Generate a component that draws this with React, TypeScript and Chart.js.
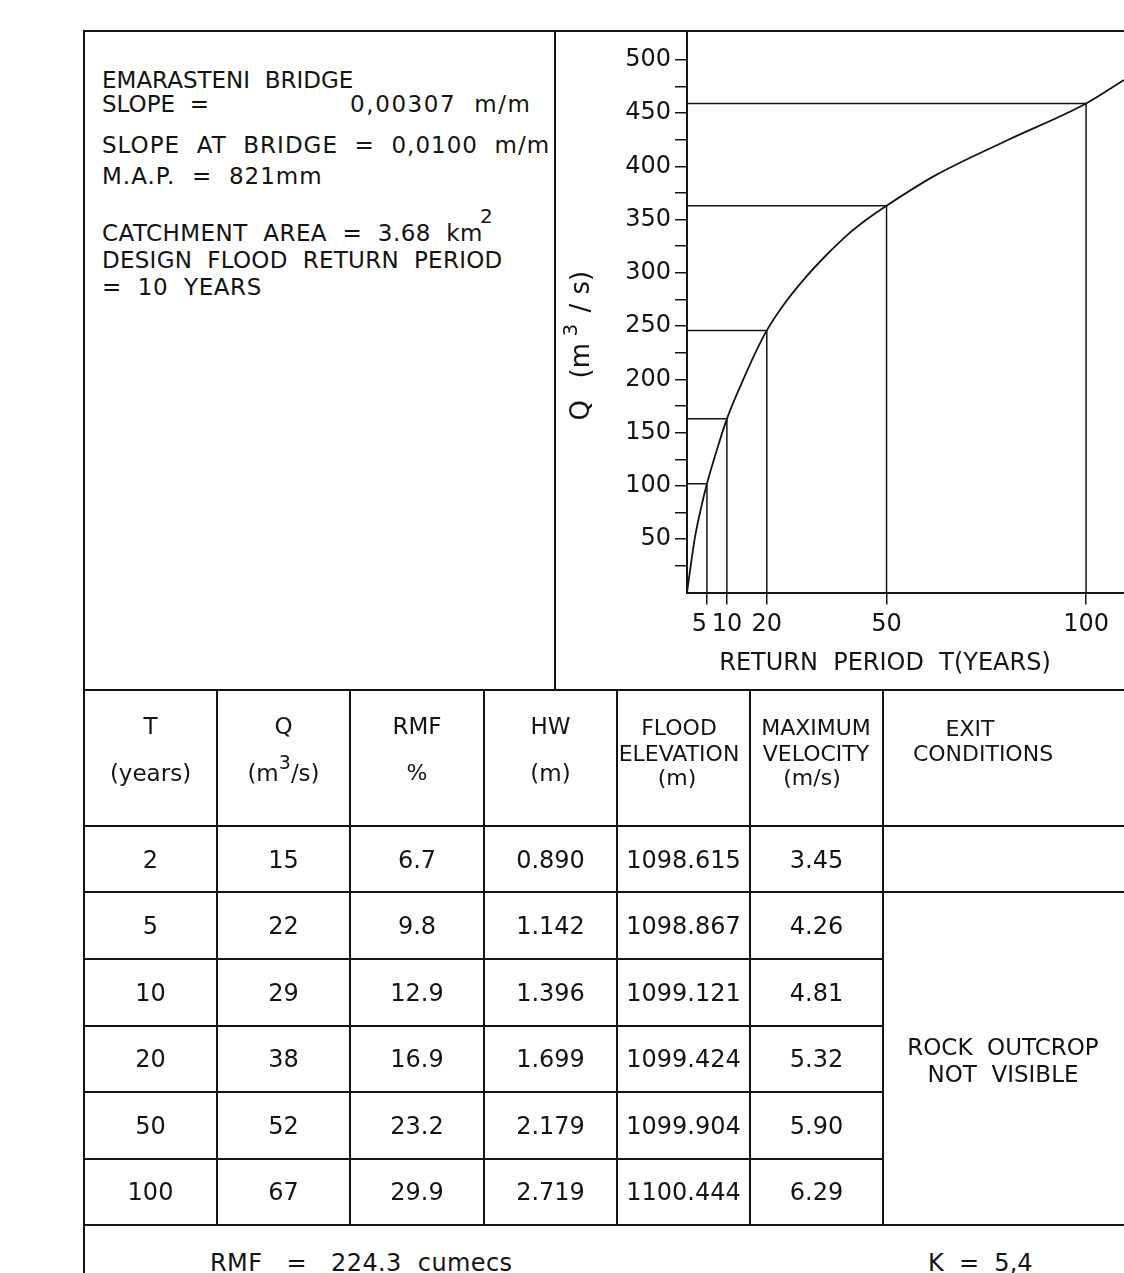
import React, { useEffect, useRef } from 'react';
import { Chart, registerables } from 'chart.js';

Chart.register(...registerables);

const FONT = "'DejaVu Sans', 'Liberation Sans', sans-serif";
const INK = '#141414';

// ---- Chart data ----
const curveT = [0, 1, 2, 3.5, 5, 7.5, 10, 14, 17, 20, 25, 30, 35, 40, 45, 50, 62, 80, 100, 109.5];
const curveQ = [0, 27, 52, 79, 102, 134, 163, 199, 224, 246, 274, 297, 317, 335, 350, 363, 391, 424, 459, 481];
const designT = [5, 10, 20, 50, 100];
const designQ = [102, 163, 246, 363, 459];
const xTickValues = [5, 10, 20, 50, 100];
const yTickValues = [25, 50, 75, 100, 125, 150, 175, 200, 225, 250, 275, 300, 325, 350, 375, 400, 425, 450, 475, 500];
const xAxisMax = 109.5;
const yAxisMax = 527;
const xAxisTitle = 'RETURN  PERIOD  T(YEARS)';

// ---- Table data ----
const tableT = ['2', '5', '10', '20', '50', '100'];
const tableQ = ['15', '22', '29', '38', '52', '67'];
const tableRMF = ['6.7', '9.8', '12.9', '16.9', '23.2', '29.9'];
const tableHW = ['0.890', '1.142', '1.396', '1.699', '2.179', '2.719'];
const tableFlood = ['1098.615', '1098.867', '1099.121', '1099.424', '1099.904', '1100.444'];
const tableVel = ['3.45', '4.26', '4.81', '5.32', '5.90', '6.29'];

const colX = [84, 217, 350, 484, 617, 750, 883];
const rowTop = 826;
const rowH = 66.5;

function HLine({ x1, x2, y, w = 2 }: { x1: number; x2: number; y: number; w?: number }) {
  return <div style={{ position: 'absolute', left: x1, top: y - w / 2, width: x2 - x1, height: w, background: INK }} />;
}
function VLine({ x, y1, y2, w = 2 }: { x: number; y1: number; y2: number; w?: number }) {
  return <div style={{ position: 'absolute', left: x - w / 2, top: y1, width: w, height: y2 - y1, background: INK }} />;
}
function Txt({ x, y, size = 23, align = 'left', ls = 0, children }: any) {
  const style: any = {
    position: 'absolute',
    top: y - 0.846 * size,
    fontFamily: FONT,
    fontSize: size,
    lineHeight: 1,
    whiteSpace: 'pre',
    color: INK,
    letterSpacing: ls,
  };
  if (align === 'center') {
    style.left = x - 200;
    style.width = 400;
    style.textAlign = 'center';
  } else {
    style.left = x;
  }
  return <div style={style}>{children}</div>;
}
function Sup({ children, size = 19, raise = 12 }: any) {
  return <span style={{ fontSize: size, position: 'relative', top: -raise }}>{children}</span>;
}

const axisTitlePlugin = {
  id: 'axisTitles',
  afterDraw(chart: any) {
    const c = chart.ctx;
    const area = chart.chartArea;
    c.save();
    c.fillStyle = INK;
    c.textBaseline = 'alphabetic';
    c.textAlign = 'center';
    c.font = `24px ${FONT}`;
    c.fillText(xAxisTitle, area.left + 198, area.bottom + 77);
    c.translate(area.left - 98, area.bottom - 172);
    c.rotate(-Math.PI / 2);
    c.textAlign = 'left';
    c.font = `26px ${FONT}`;
    c.fillText('Q', 0, 0);
    c.fillText('(m', 42, 0);
    c.font = `20px ${FONT}`;
    c.fillText('3', 84, -12);
    c.font = `26px ${FONT}`;
    c.fillText('/', 108, 0);
    c.fillText('s)', 126, 0);
    c.restore();
  },
};

export default function App() {
  const ref = useRef<HTMLCanvasElement>(null);

  useEffect(() => {
    const canvas = ref.current;
    if (!canvas) return;
    const guideSets = designT.map((t, i) => ({
      data: [
        { x: 0, y: designQ[i] },
        { x: t, y: designQ[i] },
        { x: t, y: 0 },
      ],
      showLine: true,
      borderColor: INK,
      borderWidth: 1.5,
      pointRadius: 0,
      tension: 0,
      fill: false,
    }));
    const chart = new Chart(canvas, {
      type: 'scatter',
      data: {
        datasets: [
          {
            data: curveT.map((t, i) => ({ x: t, y: curveQ[i] })),
            showLine: true,
            borderColor: INK,
            borderWidth: 1.8,
            pointRadius: 0,
            cubicInterpolationMode: 'monotone',
            fill: false,
          } as any,
          ...guideSets,
        ],
      },
      options: {
        responsive: false,
        animation: false,
        events: [],
        layout: { padding: 0 },
        plugins: { legend: { display: false }, tooltip: { enabled: false }, title: { display: false } },
        scales: {
          x: {
            type: 'linear',
            position: 'bottom',
            min: 0,
            max: xAxisMax,
            afterBuildTicks: (s: any) => {
              s.ticks = xTickValues.map((v) => ({ value: v }));
            },
            afterFit: (s: any) => {
              s.height = 97.5;
              s.paddingLeft = 0;
              s.paddingRight = 0;
            },
            grid: { drawOnChartArea: false, drawTicks: true, tickLength: 12, color: INK, lineWidth: 1.5 },
            border: { display: true, color: INK, width: 2 },
            ticks: {
              autoSkip: false,
              maxRotation: 0,
              minRotation: 0,
              padding: 6,
              color: INK,
              font: { family: FONT, size: 24 },
              callback: (v: any) => String(v) + (v === 5 ? '  ' : ''),
            },
          },
          y: {
            type: 'linear',
            min: 0,
            max: yAxisMax,
            afterBuildTicks: (s: any) => {
              s.ticks = yTickValues.map((v) => ({ value: v }));
            },
            afterFit: (s: any) => {
              s.width = 132;
              s.paddingTop = 0;
              s.paddingBottom = 0;
            },
            grid: { drawOnChartArea: false, drawTicks: true, tickLength: 12, color: INK, lineWidth: 1.5 },
            border: { display: true, color: INK, width: 2 },
            ticks: {
              autoSkip: false,
              padding: 4,
              color: INK,
              font: { family: FONT, size: 24 },
              callback: (v: any) => (v % 50 === 0 ? String(v) : ''),
            },
          },
        },
      } as any,
      plugins: [axisTitlePlugin],
    });
    return () => chart.destroy();
  }, []);

  const centers = colX.slice(0, 6).map((x, i) => (x + colX[i + 1]) / 2);
  const cols = [tableT, tableQ, tableRMF, tableHW, tableFlood, tableVel];

  return (
    <div style={{ position: 'fixed', left: 0, top: 0, width: 1124, height: 1273, overflow: 'hidden', background: '#fff' }}>
      <canvas ref={ref} width={569} height={659} style={{ position: 'absolute', left: 555, top: 31, width: 569, height: 659 }} />

      {/* frame */}
      <HLine x1={83} x2={1124} y={31} />
      <VLine x={84} y1={30} y2={1273} />
      <VLine x={555} y1={31} y2={690} />
      <HLine x1={84} x2={1124} y={690} />
      {colX.slice(1).map((x) => (
        <VLine key={x} x={x} y1={690} y2={1225} />
      ))}
      <HLine x1={84} x2={1124} y={826} />
      <HLine x1={84} x2={1124} y={892} />
      {[2, 3, 4, 5].map((k) => (
        <HLine key={k} x1={84} x2={883} y={rowTop + rowH * k} />
      ))}
      <HLine x1={84} x2={1124} y={1225} />

      {/* info panel */}
      <Txt x={102} y={88}>EMARASTENI  BRIDGE</Txt>
      <Txt x={102} y={112.5}>SLOPE  =</Txt>
      <Txt x={350} y={112.5} ls={1.6}>0,00307  m/m</Txt>
      <Txt x={102} y={153.5} ls={1}>SLOPE  AT  BRIDGE  =  0,0100  m/m</Txt>
      <Txt x={102} y={184} ls={1}>M.A.P.  =  821mm</Txt>
      <Txt x={102} y={241.5} ls={0.45}>CATCHMENT  AREA  =  3.68  km</Txt>
      <Txt x={480} y={222.5} size={20}>2</Txt>
      <Txt x={102} y={268} ls={0.25}>DESIGN  FLOOD  RETURN  PERIOD</Txt>
      <Txt x={102} y={295} ls={0.6}>=  10  YEARS</Txt>

      {/* table header */}
      <Txt x={centers[0]} y={734} align="center">T</Txt>
      <Txt x={centers[0]} y={781} align="center">(years)</Txt>
      <Txt x={centers[1]} y={734} align="center">Q</Txt>
      <Txt x={centers[1]} y={781} align="center">
        (m<Sup>3</Sup>/s)
      </Txt>
      <Txt x={centers[2]} y={734} align="center">RMF</Txt>
      <Txt x={centers[2]} y={781} size={22} align="center">%</Txt>
      <Txt x={centers[3]} y={734} align="center">HW</Txt>
      <Txt x={centers[3]} y={781} align="center">(m)</Txt>
      <Txt x={679} y={736} size={22} align="center">FLOOD</Txt>
      <Txt x={679} y={762} size={22} align="center">ELEVATION</Txt>
      <Txt x={677} y={786} size={22} align="center">(m)</Txt>
      <Txt x={816} y={736} size={22} align="center">MAXIMUM</Txt>
      <Txt x={816} y={762} size={22} align="center">VELOCITY</Txt>
      <Txt x={812} y={786} size={22} align="center">(m/s)</Txt>
      <Txt x={970} y={737} size={22} align="center">EXIT</Txt>
      <Txt x={983} y={762} size={22} align="center">CONDITIONS</Txt>

      {/* table body */}
      {cols.map((col, ci) =>
        col.map((v, ri) => (
          <Txt key={ci + '-' + ri} x={centers[ci]} y={rowTop + rowH * (ri + 0.5) + 9} size={24} align="center">
            {v}
          </Txt>
        ))
      )}
      <Txt x={1003} y={1055} align="center">ROCK  OUTCROP</Txt>
      <Txt x={1003} y={1082} align="center">NOT  VISIBLE</Txt>

      {/* footer */}
      <Txt x={210} y={1271} size={24} ls={0.4}>RMF   =   224.3  cumecs</Txt>
      <Txt x={928} y={1271} size={24}>K  =  5,4</Txt>
    </div>
  );
}
